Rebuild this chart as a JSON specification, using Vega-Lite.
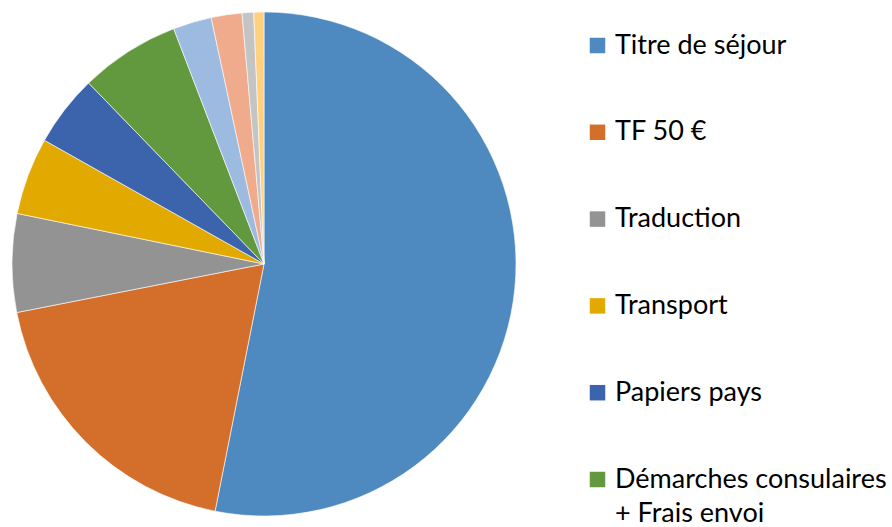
{
  "$schema": "https://vega.github.io/schema/vega-lite/v6.json",
  "width": 504,
  "height": 504,
  "padding": {"left": 10, "top": 10, "right": 0, "bottom": 0},
  "background": "white",
  "config": {"view": {"stroke": null}, "style": {"guide-label": {"lineHeight": 34}}},
  "data": {
    "values": [
      {"rank": 1, "poste": "Titre de séjour", "pct": 53.1},
      {"rank": 2, "poste": "TF 50 €", "pct": 18.8},
      {"rank": 3, "poste": "Traduction", "pct": 6.3},
      {"rank": 4, "poste": "Transport", "pct": 4.95},
      {"rank": 5, "poste": "Papiers pays", "pct": 4.58},
      {"rank": 6, "poste": "Démarches consulaires|+ Frais envoi", "pct": 6.42},
      {"rank": 7, "poste": "Photos", "pct": 2.47},
      {"rank": 8, "poste": "Photocopies", "pct": 1.97},
      {"rank": 9, "poste": "Courrier", "pct": 0.74},
      {"rank": 10, "poste": "Divers", "pct": 0.65}
    ]
  },
  "mark": {"type": "arc", "stroke": "white", "strokeWidth": 0.6},
  "encoding": {
    "theta": {"field": "pct", "type": "quantitative", "stack": true},
    "order": {"field": "rank", "type": "quantitative"},
    "color": {
      "field": "poste",
      "type": "nominal",
      "scale": {
        "domain": ["Titre de séjour", "TF 50 €", "Traduction", "Transport", "Papiers pays", "Démarches consulaires|+ Frais envoi", "Photos", "Photocopies", "Courrier", "Divers"],
        "range": ["#4E8ABF", "#D36E2B", "#939393", "#E2AA00", "#3C64AD", "#62993E", "#9DBAE0", "#F0AA8C", "#C4C4C4", "#FFD17F"]
      },
      "legend": {
        "orient": "none",
        "legendX": 572,
        "legendY": 20,
        "title": null,
        "padding": 0,
        "symbolType": "square",
        "symbolSize": 240,
        "symbolStrokeWidth": 0,
        "labelFont": "Lato",
        "labelFontSize": 27,
        "labelColor": "black",
        "labelLimit": 500,
        "labelOffset": 4,
        "rowPadding": 58.8,
        "labelExpr": "split(datum.label, '|')"
      }
    }
  }
}
